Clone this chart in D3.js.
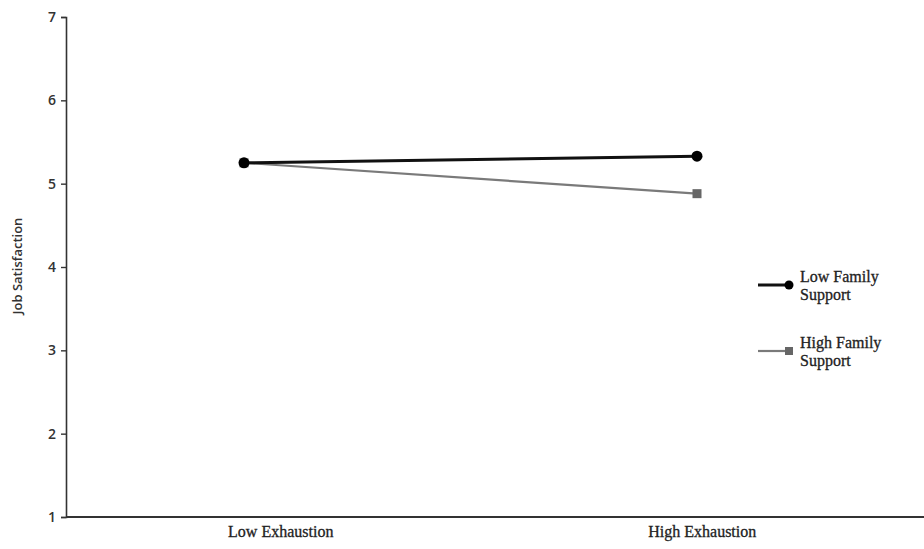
<!DOCTYPE html>
<html>
<head>
<meta charset="utf-8">
<script src="https://cdn.jsdelivr.net/npm/d3@7"></script>
<style>
  body { margin: 0; background: #fff; }
</style>
</head>
<body>
<div id="graph"></div>
<script>
// Categories on the x axis
const categories = ['Low Exhaustion', 'High Exhaustion'];
// Series names and values
const seriesNames = ['Low Family Support', 'High Family Support'];
const lowSupport = [5.25, 5.33];
const highSupport = [5.25, 4.88];
// Y axis ticks
const yTicks = [1, 2, 3, 4, 5, 6, 7];

const w = 924;
const h = 549;
const serif = '"Liberation Serif", "Times New Roman", serif';
const sans = '"Open Sans", "DejaVu Sans", sans-serif';

const svg = d3.select('#graph')
  .append('svg')
  .attr('width', w)
  .attr('height', h);

// Scales
const yScale = d3.scaleLinear()
  .domain([1, 7])
  .range([517, 17]);

// band scale for category labels
const xBand = d3.scaleBand()
  .domain(categories)
  .range([70, 913]);

// point scale for the marks
const xPoint = d3.scalePoint()
  .domain(categories)
  .range([244, 697]);

// Y axis
const yAxis = d3.axisLeft(yScale)
  .tickValues(yTicks)
  .tickSize(5)
  .tickFormat(d3.format('d'));

const gy = svg.append('g')
  .attr('transform', 'translate(66,0)')
  .call(yAxis);
gy.select('.domain').attr('stroke', '#333').attr('stroke-width', 1.6);
gy.selectAll('.tick line').attr('stroke', '#333').attr('stroke-width', 1.4);
gy.selectAll('.tick text')
  .style('font-family', sans)
  .style('font-size', '14px')
  .style('font-weight', 600)
  .attr('fill', '#333')
  .attr('x', -10);

// X axis
const gx = svg.append('g')
  .attr('transform', 'translate(0,517)')
  .call(d3.axisBottom(xBand).tickSize(0));
gx.select('.domain')
  .attr('d', 'M66,0H924')
  .attr('stroke', '#333')
  .attr('stroke-width', 1.8);
gx.selectAll('.tick text')
  .style('font-family', serif)
  .style('font-size', '16px')
  .attr('fill', '#222')
  .attr('stroke', '#222')
  .attr('stroke-width', 0.3)
  .attr('dy', '1.05em');

// Y axis title
svg.append('text')
  .attr('transform', 'translate(22,266) rotate(-90)')
  .attr('text-anchor', 'middle')
  .style('font-family', sans)
  .style('font-size', '13px')
  .style('font-weight', 600)
  .attr('fill', '#333')
  .text('Job Satisfaction');

const line = d3.line()
  .x((d, i) => xPoint(categories[i]))
  .y((d) => yScale(d));

// High family support (grey, squares)
svg.append('path')
  .datum(highSupport)
  .attr('d', line)
  .attr('fill', 'none')
  .attr('stroke', '#7a7a7a')
  .attr('stroke-width', 2.2);

svg.selectAll('.sq')
  .data(highSupport)
  .enter()
  .append('rect')
  .attr('x', (d, i) => xPoint(categories[i]) - 4.5)
  .attr('y', (d) => yScale(d) - 4.5)
  .attr('width', 9)
  .attr('height', 9)
  .attr('fill', '#666');

// Low family support (black, circles)
svg.append('path')
  .datum(lowSupport)
  .attr('d', line)
  .attr('fill', 'none')
  .attr('stroke', '#111')
  .attr('stroke-width', 3);

svg.selectAll('.dot')
  .data(lowSupport)
  .enter()
  .append('circle')
  .attr('cx', (d, i) => xPoint(categories[i]))
  .attr('cy', (d) => yScale(d))
  .attr('r', 5.5)
  .attr('fill', '#000');

// Legend
const legend = [
  { name: seriesNames[0], y: 285, color: '#111', width: 3, marker: 'circle' },
  { name: seriesNames[1], y: 351, color: '#7a7a7a', width: 2.2, marker: 'square' }
];

legend.forEach((l) => {
  const g = svg.append('g');
  g.append('line')
    .attr('x1', 758).attr('x2', 789)
    .attr('y1', l.y).attr('y2', l.y)
    .attr('stroke', l.color)
    .attr('stroke-width', l.width);
  if (l.marker === 'circle') {
    g.append('circle').attr('cx', 789).attr('cy', l.y).attr('r', 4.5).attr('fill', '#000');
  } else {
    g.append('rect').attr('x', 785).attr('y', l.y - 4).attr('width', 8).attr('height', 8).attr('fill', '#666');
  }
  const words = l.name.split(' ');
  const t = g.append('text')
    .style('font-family', serif)
    .style('font-size', '16px')
    .attr('fill', '#222')
    .attr('stroke', '#222')
    .attr('stroke-width', 0.3);
  t.append('tspan').attr('x', 800).attr('y', l.y - 3).text(words[0] + ' ' + words[1]);
  t.append('tspan').attr('x', 800).attr('y', l.y + 15).text(words[2]);
});
</script>
</body>
</html>
